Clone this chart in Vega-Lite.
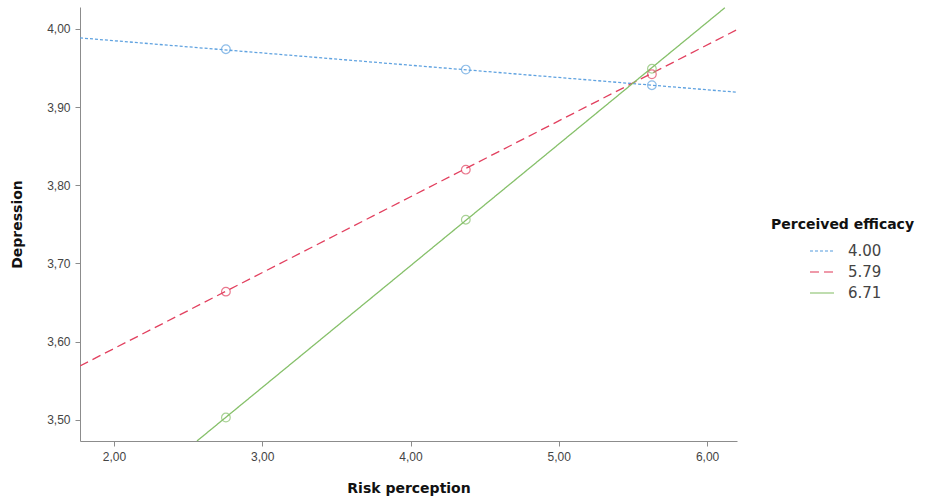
{
  "$schema": "https://vega.github.io/schema/vega-lite/v6.json",
  "width": 657,
  "height": 434,
  "autosize": "none",
  "padding": {"left": 80, "top": 7, "right": 197, "bottom": 57},
  "background": "white",
  "config": {
    "view": {"stroke": null},
    "font": "Liberation Sans",
    "axis": {"grid": false, "domainColor": "#8c8c8c", "tickColor": "#8c8c8c", "labelColor": "#444444", "labelFontSize": 12, "titleFont": "DejaVu Sans", "titleFontSize": 14, "titleFontWeight": "bold", "titleColor": "#111111", "tickSize": 5}
  },
  "data": {"values": [
    {"pe": "4.00", "type": "line", "x": 1.771, "y": 3.9885},
    {"pe": "4.00", "type": "line", "x": 6.202, "y": 3.919},
    {"pe": "5.79", "type": "line", "x": 1.771, "y": 3.569},
    {"pe": "5.79", "type": "line", "x": 6.202, "y": 3.999},
    {"pe": "6.71", "type": "line", "x": 2.56, "y": 3.473},
    {"pe": "6.71", "type": "line", "x": 6.12, "y": 4.027},
    {"pe": "4.00", "type": "point", "x": 2.755, "y": 3.974},
    {"pe": "4.00", "type": "point", "x": 4.373, "y": 3.948},
    {"pe": "4.00", "type": "point", "x": 5.628, "y": 3.928},
    {"pe": "5.79", "type": "point", "x": 2.755, "y": 3.664},
    {"pe": "5.79", "type": "point", "x": 4.373, "y": 3.820},
    {"pe": "5.79", "type": "point", "x": 5.628, "y": 3.942},
    {"pe": "6.71", "type": "point", "x": 2.755, "y": 3.503},
    {"pe": "6.71", "type": "point", "x": 4.373, "y": 3.756},
    {"pe": "6.71", "type": "point", "x": 5.628, "y": 3.949}
  ]},
  "encoding": {
    "x": {"field": "x", "type": "quantitative", "scale": {"domain": [1.771, 6.202], "nice": false, "zero": false},
      "axis": {"values": [2, 3, 4, 5, 6], "labelExpr": "replace(format(datum.value, '.2f'), '.', ',')", "title": "Risk perception", "titlePadding": 19, "labelPadding": 5}},
    "y": {"field": "y", "type": "quantitative", "scale": {"domain": [3.473, 4.028], "nice": false, "zero": false},
      "axis": {"values": [3.5, 3.6, 3.7, 3.8, 3.9, 4.0], "labelExpr": "replace(format(datum.value, '.2f'), '.', ',')", "title": "Depression", "titlePadding": 22, "labelPadding": 5}},
    "color": {"field": "pe", "type": "nominal", "scale": {"domain": ["4.00", "5.79", "6.71"], "range": ["#5fa2e0", "#e2405f", "#86c06a"]},
      "legend": {"title": "Perceived efficacy", "orient": "none", "legendX": 691, "legendY": 211, "titleFont": "DejaVu Sans", "titleFontSize": 14, "titleFontWeight": "bold", "titleColor": "#111111", "labelFont": "DejaVu Sans", "labelFontSize": 15, "labelColor": "#444444", "labelOffset": 13, "symbolType": "stroke", "symbolSize": 576, "symbolStrokeWidth": 1.5, "symbolOffset": 38, "rowPadding": -6, "titlePadding": 6}}
  },
  "layer": [
    {
      "transform": [{"filter": "datum.type === 'line'"}],
      "mark": {"type": "line", "clip": true, "strokeWidth": 1.3},
      "encoding": {
        "strokeDash": {"field": "pe", "type": "nominal", "scale": {"domain": ["4.00", "5.79", "6.71"], "range": [[3, 2], [9, 5], [1, 0]]}, "legend": null}
      }
    },
    {
      "transform": [{"filter": "datum.type === 'point'"}],
      "mark": {"type": "point", "filled": false, "size": 75, "strokeWidth": 1.2},
      "encoding": {}
    }
  ]
}
